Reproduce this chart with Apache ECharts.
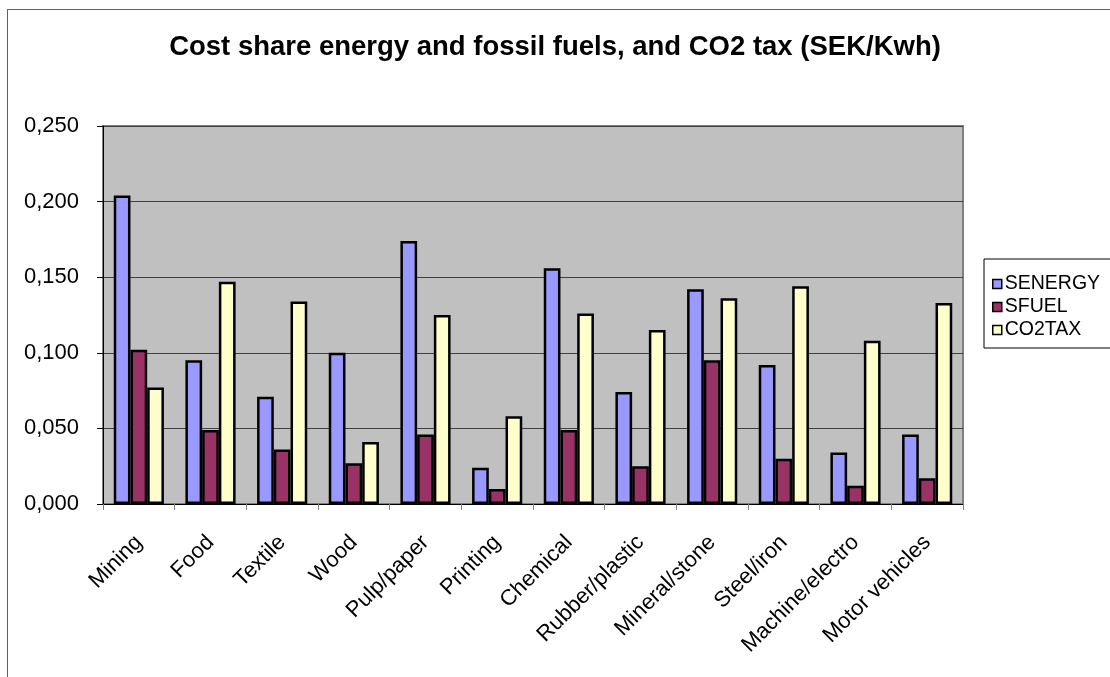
<!DOCTYPE html>
<html>
<head>
<meta charset="utf-8">
<script src="https://cdn.jsdelivr.net/npm/echarts@6/dist/echarts.min.js"></script>
<style>
html,body{margin:0;padding:0;background:#fff;overflow:hidden;}
#wrap{position:relative;width:1110px;height:677px;}
#c{width:1110px;height:677px;}
#frame{position:absolute;left:7px;top:9px;width:1200px;height:800px;border-left:1px solid #606060;border-top:1px solid #606060;pointer-events:none;}
</style>
</head>
<body>
<div id="wrap"><div id="c"></div><div id="frame"></div></div>
<script>
const categories = ["Mining","Food","Textile","Wood","Pulp/paper","Printing","Chemical","Rubber/plastic","Mineral/stone","Steel/iron","Machine/electro","Motor vehicles"];
const senergy = [0.204,0.095,0.071,0.100,0.174,0.024,0.156,0.074,0.142,0.092,0.034,0.046];
const sfuel   = [0.102,0.049,0.036,0.027,0.046,0.010,0.049,0.025,0.095,0.030,0.012,0.017];
const co2tax  = [0.077,0.147,0.134,0.041,0.125,0.058,0.126,0.115,0.136,0.144,0.108,0.133];
const yTicks = [0,0.05,0.10,0.15,0.20,0.25];

const FONT = "'Liberation Sans', Arial, sans-serif";
const chart = echarts.init(document.getElementById('c'));
const barStyle = (color) => ({color: color, borderColor: '#000', borderWidth: 2.5});
chart.setOption({
  animation: false,
  backgroundColor: '#fff',
  textStyle: {fontFamily: FONT},
  title: {
    text: 'Cost share energy and fossil fuels, and CO2 tax (SEK/Kwh)',
    left: 'center', top: 33, padding: 0,
    textStyle: {fontFamily: FONT, fontSize: 27.5, fontWeight: 'bold', color: '#000'}
  },
  legend: {
    orient: 'vertical', left: 984, top: 259,
    padding: [15, 30, 8, 8],
    itemGap: 3, itemWidth: 9, itemHeight: 9,
    borderColor: '#000', borderWidth: 1,
    icon: 'rect',
    itemStyle: {borderColor: '#000', borderWidth: 1.5},
    textStyle: {fontFamily: FONT, fontSize: 19.5, color: '#000', padding: [0,0,0,-2]},
    data: ['SENERGY','SFUEL','CO2TAX']
  },
  grid: {
    left: 103, top: 126, right: 147, bottom: 173,
    show: true, backgroundColor: '#c0c0c0', borderColor: '#808080', borderWidth: 2
  },
  xAxis: {
    type: 'category', data: categories,
    axisLine: {lineStyle: {color: '#000', width: 1}},
    axisTick: {show: true, length: 6, lineStyle: {color: '#808080'}},
    axisLabel: {rotate: 45, fontSize: 22, color: '#000', fontFamily: FONT, margin: 35, interval: 0}
  },
  yAxis: {
    type: 'value', min: 0, max: 0.25, interval: 0.05,
    axisLine: {show: true, lineStyle: {color: '#000', width: 1}},
    axisTick: {show: true, length: 6, lineStyle: {color: '#000'}},
    splitLine: {lineStyle: {color: '#404040', width: 1}},
    axisLabel: {
      fontSize: 22, color: '#000', fontFamily: FONT, margin: 24,
      formatter: (v) => { const t = yTicks.find(x => Math.abs(x - v) < 1e-9); return (t !== undefined ? t : v).toFixed(3).replace('.', ','); }
    }
  },
  series: [
    {name: 'SENERGY', type: 'bar', data: senergy, barGap: '0%', barCategoryGap: '30%', itemStyle: barStyle('#9999ff')},
    {name: 'SFUEL', type: 'bar', data: sfuel, barGap: '0%', barCategoryGap: '30%', itemStyle: barStyle('#993366')},
    {name: 'CO2TAX', type: 'bar', data: co2tax, barGap: '0%', barCategoryGap: '30%', itemStyle: barStyle('#ffffcc')}
  ]
});
</script>
</body>
</html>
